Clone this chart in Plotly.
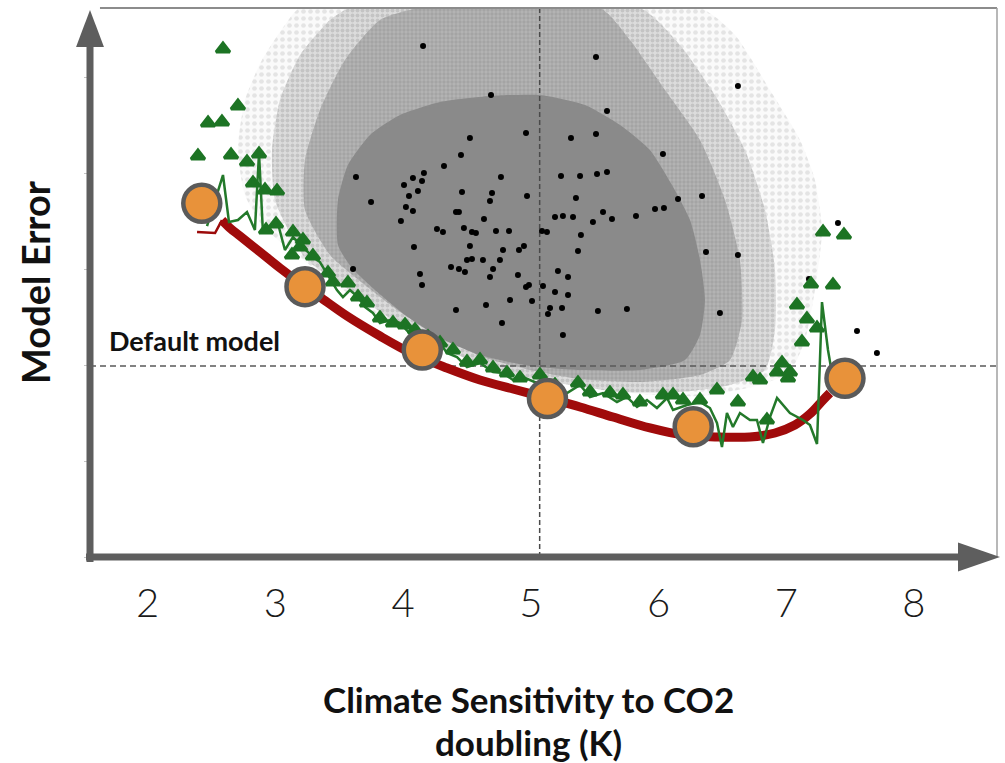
import plotly.graph_objects as go

# ---- default model reference lines ----
DEFAULT_SENSITIVITY = 5.07
DEFAULT_ERROR = 1.99

# ---- ensemble cloud: density bands (outer faint halo -> dense core) ----
HALO_X = [2.763, 2.708, 2.763, 2.896, 3.076, 3.194, 6.325, 6.599, 6.873, 7.108, 7.225, 7.280, 7.225,
          7.147, 7.029, 6.795, 6.325, 5.855, 5.386, 4.994, 4.603, 4.211, 3.820, 3.429, 3.115, 2.896, 2.763]
HALO_Y = [3.771, 4.240, 4.760, 5.177, 5.542, 5.719, 5.719, 5.438, 4.865, 4.344, 3.927, 3.406, 2.781,
          2.260, 1.927, 1.792, 1.677, 1.698, 1.792, 1.885, 2.031, 2.260, 2.510, 2.885, 3.198, 3.458, 3.771]

OUTER_X = [2.998, 2.975, 3.037, 3.194, 3.429, 3.585, 5.855, 6.168, 6.442, 6.677, 6.834, 6.912, 6.912,
           6.834, 6.560, 6.168, 5.699, 5.307, 4.916, 4.524, 4.172, 3.859, 3.546, 3.233, 2.998]
OUTER_Y = [3.719, 4.240, 4.760, 5.229, 5.594, 5.719, 5.719, 5.333, 4.813, 4.240, 3.615, 2.990, 2.365,
           1.948, 1.792, 1.719, 1.719, 1.792, 1.885, 2.052, 2.260, 2.521, 2.813, 3.115, 3.719]

INNER_X = [3.233, 3.233, 3.350, 3.546, 3.820, 4.133, 5.542, 5.777, 6.051, 6.325, 6.521, 6.638, 6.654,
           6.560, 6.325, 5.855, 5.386, 4.994, 4.603, 4.290, 3.977, 3.703, 3.429, 3.233]
INNER_Y = [3.615, 4.135, 4.656, 5.177, 5.594, 5.719, 5.719, 5.385, 4.865, 4.344, 3.719, 3.094, 2.469,
           2.052, 1.896, 1.823, 1.854, 1.948, 2.094, 2.302, 2.552, 2.833, 3.146, 3.615]

CORE_X = [3.491, 3.491, 3.569, 3.742, 3.977, 4.290, 4.681, 5.072, 5.425, 5.699, 5.933, 6.106, 6.247,
          6.325, 6.364, 6.325, 6.207, 5.855, 5.386, 4.994, 4.603, 4.290, 4.016, 3.781, 3.601, 3.491]
CORE_Y = [3.250, 3.719, 4.083, 4.396, 4.604, 4.740, 4.802, 4.813, 4.708, 4.500, 4.240, 3.875, 3.510,
          3.094, 2.677, 2.313, 2.052, 1.948, 1.948, 1.990, 2.104, 2.281, 2.521, 2.781, 3.010, 3.250]

# ---- individual model runs (black) ----
RUNS_X = [4.157, 5.511, 6.622, 4.689, 5.597, 4.963, 4.524, 5.315, 5.511, 4.454,
          6.035, 4.321, 4.164, 3.632, 4.767, 5.237, 5.386, 5.519, 5.597, 4.078,
          4.149, 4.008, 4.117, 4.047, 4.462, 4.697, 4.971, 5.354, 6.153, 6.341,
          3.750, 4.681, 4.023, 4.078, 5.973, 6.043, 3.984, 4.415, 4.438, 4.634,
          5.190, 5.252, 5.331, 5.566, 5.636, 5.487, 5.824, 7.405, 4.266, 4.313,
          4.477, 4.540, 4.571, 4.728, 4.830, 5.088, 5.127, 5.393, 4.086, 4.524,
          4.783, 4.908, 4.947, 5.370, 6.372, 6.622, 4.501, 4.540, 4.626, 4.759,
          4.705, 4.376, 4.438, 4.485, 3.609, 4.133, 4.149, 4.681, 4.900, 5.213,
          5.292, 7.178, 4.963, 4.986, 5.096, 5.190, 5.292, 4.838, 5.010, 4.650,
          4.415, 5.151, 5.135, 5.245, 5.526, 5.753, 6.481, 4.775, 5.252, 7.554,
          7.710]
RUNS_Y = [5.323, 5.208, 4.906, 4.813, 4.646, 4.417, 4.365, 4.365, 4.406, 4.188,
          4.198, 4.073, 4.000, 3.958, 3.958, 3.969, 3.969, 3.990, 4.010, 3.948,
          3.917, 3.875, 3.813, 3.760, 3.802, 3.792, 3.760, 3.740, 3.729, 3.760,
          3.698, 3.708, 3.646, 3.604, 3.625, 3.635, 3.500, 3.594, 3.594, 3.521,
          3.542, 3.552, 3.542, 3.594, 3.521, 3.490, 3.552, 3.479, 3.417, 3.385,
          3.427, 3.385, 3.375, 3.396, 3.396, 3.396, 3.385, 3.354, 3.229, 3.240,
          3.198, 3.198, 3.240, 3.188, 3.177, 3.146, 3.094, 3.104, 3.094, 3.094,
          3.000, 3.021, 3.000, 2.969, 3.000, 2.948, 2.833, 2.917, 2.938, 2.979,
          2.917, 2.896, 2.813, 2.833, 2.823, 2.760, 2.729, 2.677, 2.667, 2.625,
          2.573, 2.594, 2.531, 2.594, 2.563, 2.583, 2.542, 2.438, 2.313, 2.354,
          2.125]

# ---- calibrated frontier (red) ----
FRONTIER_X = [2.388, 2.529, 2.583, 2.646, 2.724, 2.881, 3.037, 3.194, 3.350, 3.562, 3.820, 4.078, 4.344,
              4.603, 4.861, 5.127, 5.386, 5.644, 5.933, 6.192, 6.481, 6.716, 6.912, 7.068, 7.186, 7.288, 7.342]
FRONTIER_Y = [3.385, 3.375, 3.510, 3.427, 3.344, 3.177, 3.010, 2.854, 2.708, 2.510, 2.302, 2.115, 1.969,
              1.844, 1.750, 1.656, 1.563, 1.458, 1.344, 1.271, 1.250, 1.250, 1.292, 1.375, 1.490, 1.635, 1.708]

# ---- best emulated runs per sensitivity bin (green line) ----
BEST_X = [2.466, 2.591, 2.638, 2.708, 2.779, 2.841, 2.873, 2.904, 2.959, 3.014, 3.076, 3.139, 3.217,
          3.295, 3.350, 3.405, 3.483, 3.530, 3.585, 3.648, 3.703, 3.765, 3.820, 3.898, 3.977, 4.078,
          4.188, 4.290, 4.344, 4.423, 4.501, 4.603, 4.705, 4.783, 4.861, 4.939, 5.049, 5.174, 5.284,
          5.386, 5.464, 5.566, 5.675, 5.753, 5.832, 5.910, 5.988, 6.067, 6.114, 6.223, 6.325, 6.403,
          6.458, 6.497, 6.536, 6.583, 6.638, 6.716, 6.771, 6.818, 6.873, 6.928, 7.029, 7.131, 7.186,
          7.241, 7.280, 7.327, 7.374]
BEST_Y = [3.448, 3.979, 3.490, 3.510, 3.594, 3.406, 4.208, 3.375, 3.427, 3.510, 3.198, 3.333, 3.229,
          3.125, 3.073, 2.958, 2.781, 2.708, 2.781, 2.708, 2.604, 2.542, 2.438, 2.469, 2.438, 2.292,
          2.292, 2.229, 2.125, 2.083, 1.979, 2.021, 1.927, 1.917, 1.844, 1.875, 1.813, 1.760, 1.708,
          1.792, 1.667, 1.708, 1.615, 1.667, 1.563, 1.635, 1.552, 1.656, 1.531, 1.583, 1.615, 1.552,
          1.396, 1.146, 1.500, 1.354, 1.500, 1.427, 1.427, 1.188, 1.458, 1.656, 1.500, 1.427, 1.375,
          1.177, 2.656, 2.156, 1.792]

# ---- emulated candidate runs (green markers) ----
CAND_X = [2.591, 2.708, 2.474, 2.583, 2.395, 2.654, 2.779, 2.873, 2.826, 2.920, 3.014, 2.928, 3.006,
          3.139, 3.217, 3.131, 3.194, 3.295, 3.413, 3.452, 3.569, 3.648, 3.718, 3.820, 3.922, 4.016,
          4.094, 4.196, 4.290, 4.391, 4.501, 4.603, 4.705, 4.814, 4.916, 5.072, 5.190, 5.370, 5.464,
          5.620, 5.722, 5.855, 6.035, 6.114, 6.192, 6.325, 6.458, 6.622, 6.849, 6.740, 6.795, 6.928,
          6.967, 7.029, 7.014, 7.123, 7.084, 7.162, 7.241, 7.194, 7.366, 7.288, 7.452]
CAND_Y = [5.292, 4.698, 4.521, 4.531, 4.177, 4.188, 4.115, 4.198, 3.896, 3.823, 3.813, 3.406, 3.469,
          3.385, 3.302, 3.146, 3.229, 3.135, 2.958, 2.865, 2.854, 2.708, 2.646, 2.490, 2.438, 2.417,
          2.365, 2.292, 2.229, 2.156, 2.031, 2.052, 1.969, 1.917, 1.865, 1.896, 1.792, 1.813, 1.719,
          1.708, 1.688, 1.615, 1.688, 1.688, 1.635, 1.635, 1.740, 1.615, 1.427, 1.875, 1.844, 1.927,
          2.021, 1.927, 1.865, 2.240, 2.625, 2.479, 2.385, 2.844, 2.833, 3.385, 3.354]

# ---- selected configurations (orange) ----
SELECTED_X = [2.425, 3.233, 4.151, 5.131, 6.272, 7.460]
SELECTED_Y = [3.684, 2.816, 2.156, 1.650, 1.357, 1.861]

X_TICKS = [2, 3, 4, 5, 6, 7, 8]
X_RANGE = [1.550, 8.650]
Y_RANGE = [0, 5.719]

X_TITLE_LINES = ["Climate Sensitivity to CO2", "doubling (K)"]
Y_TITLE = "Model Error"
DEFAULT_LABEL = "Default model"

AXIS_GREY = "#5e5e5e"
FONT = "Lato"

fig = go.Figure()


def band(xs, ys, **style):
    fig.add_trace(go.Scatter(x=xs, y=ys, mode="lines", fill="toself",
                             line=dict(width=0, shape="spline", smoothing=0.6),
                             hoverinfo="skip", showlegend=False, **style))


band(HALO_X, HALO_Y, fillcolor="rgba(0,0,0,0)",
     fillpattern=dict(shape=".", fgcolor="#cdcdcd", bgcolor="#fafafa", size=7, solidity=0.35))
band(OUTER_X, OUTER_Y, fillcolor="rgba(0,0,0,0)",
     fillpattern=dict(shape=".", fgcolor="#ababab", bgcolor="#dcdcdc", size=5, solidity=0.5))
band(INNER_X, INNER_Y, fillcolor="rgba(0,0,0,0)",
     fillpattern=dict(shape=".", fgcolor="#949494", bgcolor="#b4b4b4", size=4, solidity=0.55))
band(CORE_X, CORE_Y, fillcolor="#8a8a8a")

# dashed reference lines for the default model
fig.add_trace(go.Scatter(x=[DEFAULT_SENSITIVITY, DEFAULT_SENSITIVITY], y=Y_RANGE, mode="lines",
                         line=dict(color="#4a4a4a", width=1.5, dash="5px,3px"),
                         hoverinfo="skip", showlegend=False))
fig.add_trace(go.Scatter(x=X_RANGE, y=[DEFAULT_ERROR, DEFAULT_ERROR], mode="lines",
                         line=dict(color="#5a5a5a", width=1.5, dash="6px,4px"),
                         hoverinfo="skip", showlegend=False))

# individual runs
fig.add_trace(go.Scatter(x=RUNS_X, y=RUNS_Y, mode="markers",
                         marker=dict(color="#000000", size=6), showlegend=False))

# frontier: thin hook at the low-sensitivity end, thick afterwards
fig.add_trace(go.Scatter(x=FRONTIER_X[:3], y=FRONTIER_Y[:3], mode="lines",
                         line=dict(color="#9c0a0a", width=2.5), showlegend=False))
fig.add_trace(go.Scatter(x=FRONTIER_X[2:], y=FRONTIER_Y[2:], mode="lines",
                         line=dict(color="#a00b0b", width=9, shape="spline"), showlegend=False))

# best emulated runs
fig.add_trace(go.Scatter(x=BEST_X, y=BEST_Y, mode="lines",
                         line=dict(color="#23792a", width=2.5), showlegend=False))
fig.add_trace(go.Scatter(x=CAND_X, y=CAND_Y, mode="markers",
                         marker=dict(symbol="triangle-up", color="#1d7424", size=12,
                                     line=dict(color="#1d7424", width=3)),
                         showlegend=False))

# selected configurations
fig.add_trace(go.Scatter(x=SELECTED_X, y=SELECTED_Y, mode="markers",
                         marker=dict(color="#e8923a", size=37,
                                     line=dict(color="#5a5a5a", width=4.5)),
                         showlegend=False))

# axes drawn as thick arrows plus a thin frame on top / right
shapes = [
    dict(type="line", xref="paper", yref="paper", x0=0.011, x1=1.0, y0=1.0, y1=1.0,
         line=dict(color="#8c8c8c", width=2)),
    dict(type="line", xref="paper", yref="paper", x0=1.0, x1=1.0, y0=0.0, y1=1.0,
         line=dict(color="#a0a0a0", width=1.5)),
    dict(type="line", xref="paper", yref="paper", x0=0, x1=0, y0=-0.009, y1=0.935,
         line=dict(color=AXIS_GREY, width=7)),
    dict(type="path", xref="paper", yref="paper",
         path="M -0.0154 0.929 L 0 0.9964 L 0.0154 0.929 Z",
         fillcolor=AXIS_GREY, line=dict(width=0)),
    dict(type="line", xref="paper", yref="paper", x0=-0.0044, x1=0.962, y0=0, y1=0,
         line=dict(color=AXIS_GREY, width=7)),
    dict(type="path", xref="paper", yref="paper",
         path="M 0.957 -0.0265 L 1.0033 0 L 0.957 0.0265 Z",
         fillcolor=AXIS_GREY, line=dict(width=0)),
]

title_font = dict(family=FONT, size=38, color="#111111", weight="bold")
x_title_font = dict(family=FONT, size=35, color="#111111", weight="bold")
annotations = [
    dict(x=1.683, y=2.26, xref="x", yref="y", text=DEFAULT_LABEL, showarrow=False,
         xanchor="left", yanchor="middle",
         font=dict(family=FONT, size=27, color="#111111", weight="bold")),
    dict(x=-0.0606, y=0.501, xref="paper", yref="paper", text=Y_TITLE, showarrow=False,
         textangle=-90, xanchor="center", yanchor="middle", font=title_font),
    dict(x=0.483, y=-0.2587, xref="paper", yref="paper", text=X_TITLE_LINES[0], showarrow=False,
         xanchor="center", yanchor="middle", font=x_title_font),
    dict(x=0.483, y=-0.3361, xref="paper", yref="paper", text=X_TITLE_LINES[1], showarrow=False,
         xanchor="center", yanchor="middle", font=x_title_font),
]

fig.update_layout(
    width=1005, height=763,
    margin=dict(l=90, r=8, t=8, b=206),
    paper_bgcolor="white", plot_bgcolor="white",
    showlegend=False,
    shapes=shapes,
    annotations=annotations,
    xaxis=dict(range=X_RANGE, tickvals=X_TICKS, ticktext=[str(t) for t in X_TICKS],
               showgrid=False, zeroline=False, showline=False, ticks="",
               ticklabelstandoff=19,
               tickfont=dict(family=FONT, size=40, color="#1a1a1a", weight=300)),
    yaxis=dict(range=Y_RANGE, tickvals=[0, 1, 2, 3, 4, 5], showticklabels=False,
               showgrid=False, zeroline=False, showline=False,
               ticks="outside", ticklen=5, tickcolor="#c4c4c4", tickwidth=1),
)

fig.write_html("out.html")
